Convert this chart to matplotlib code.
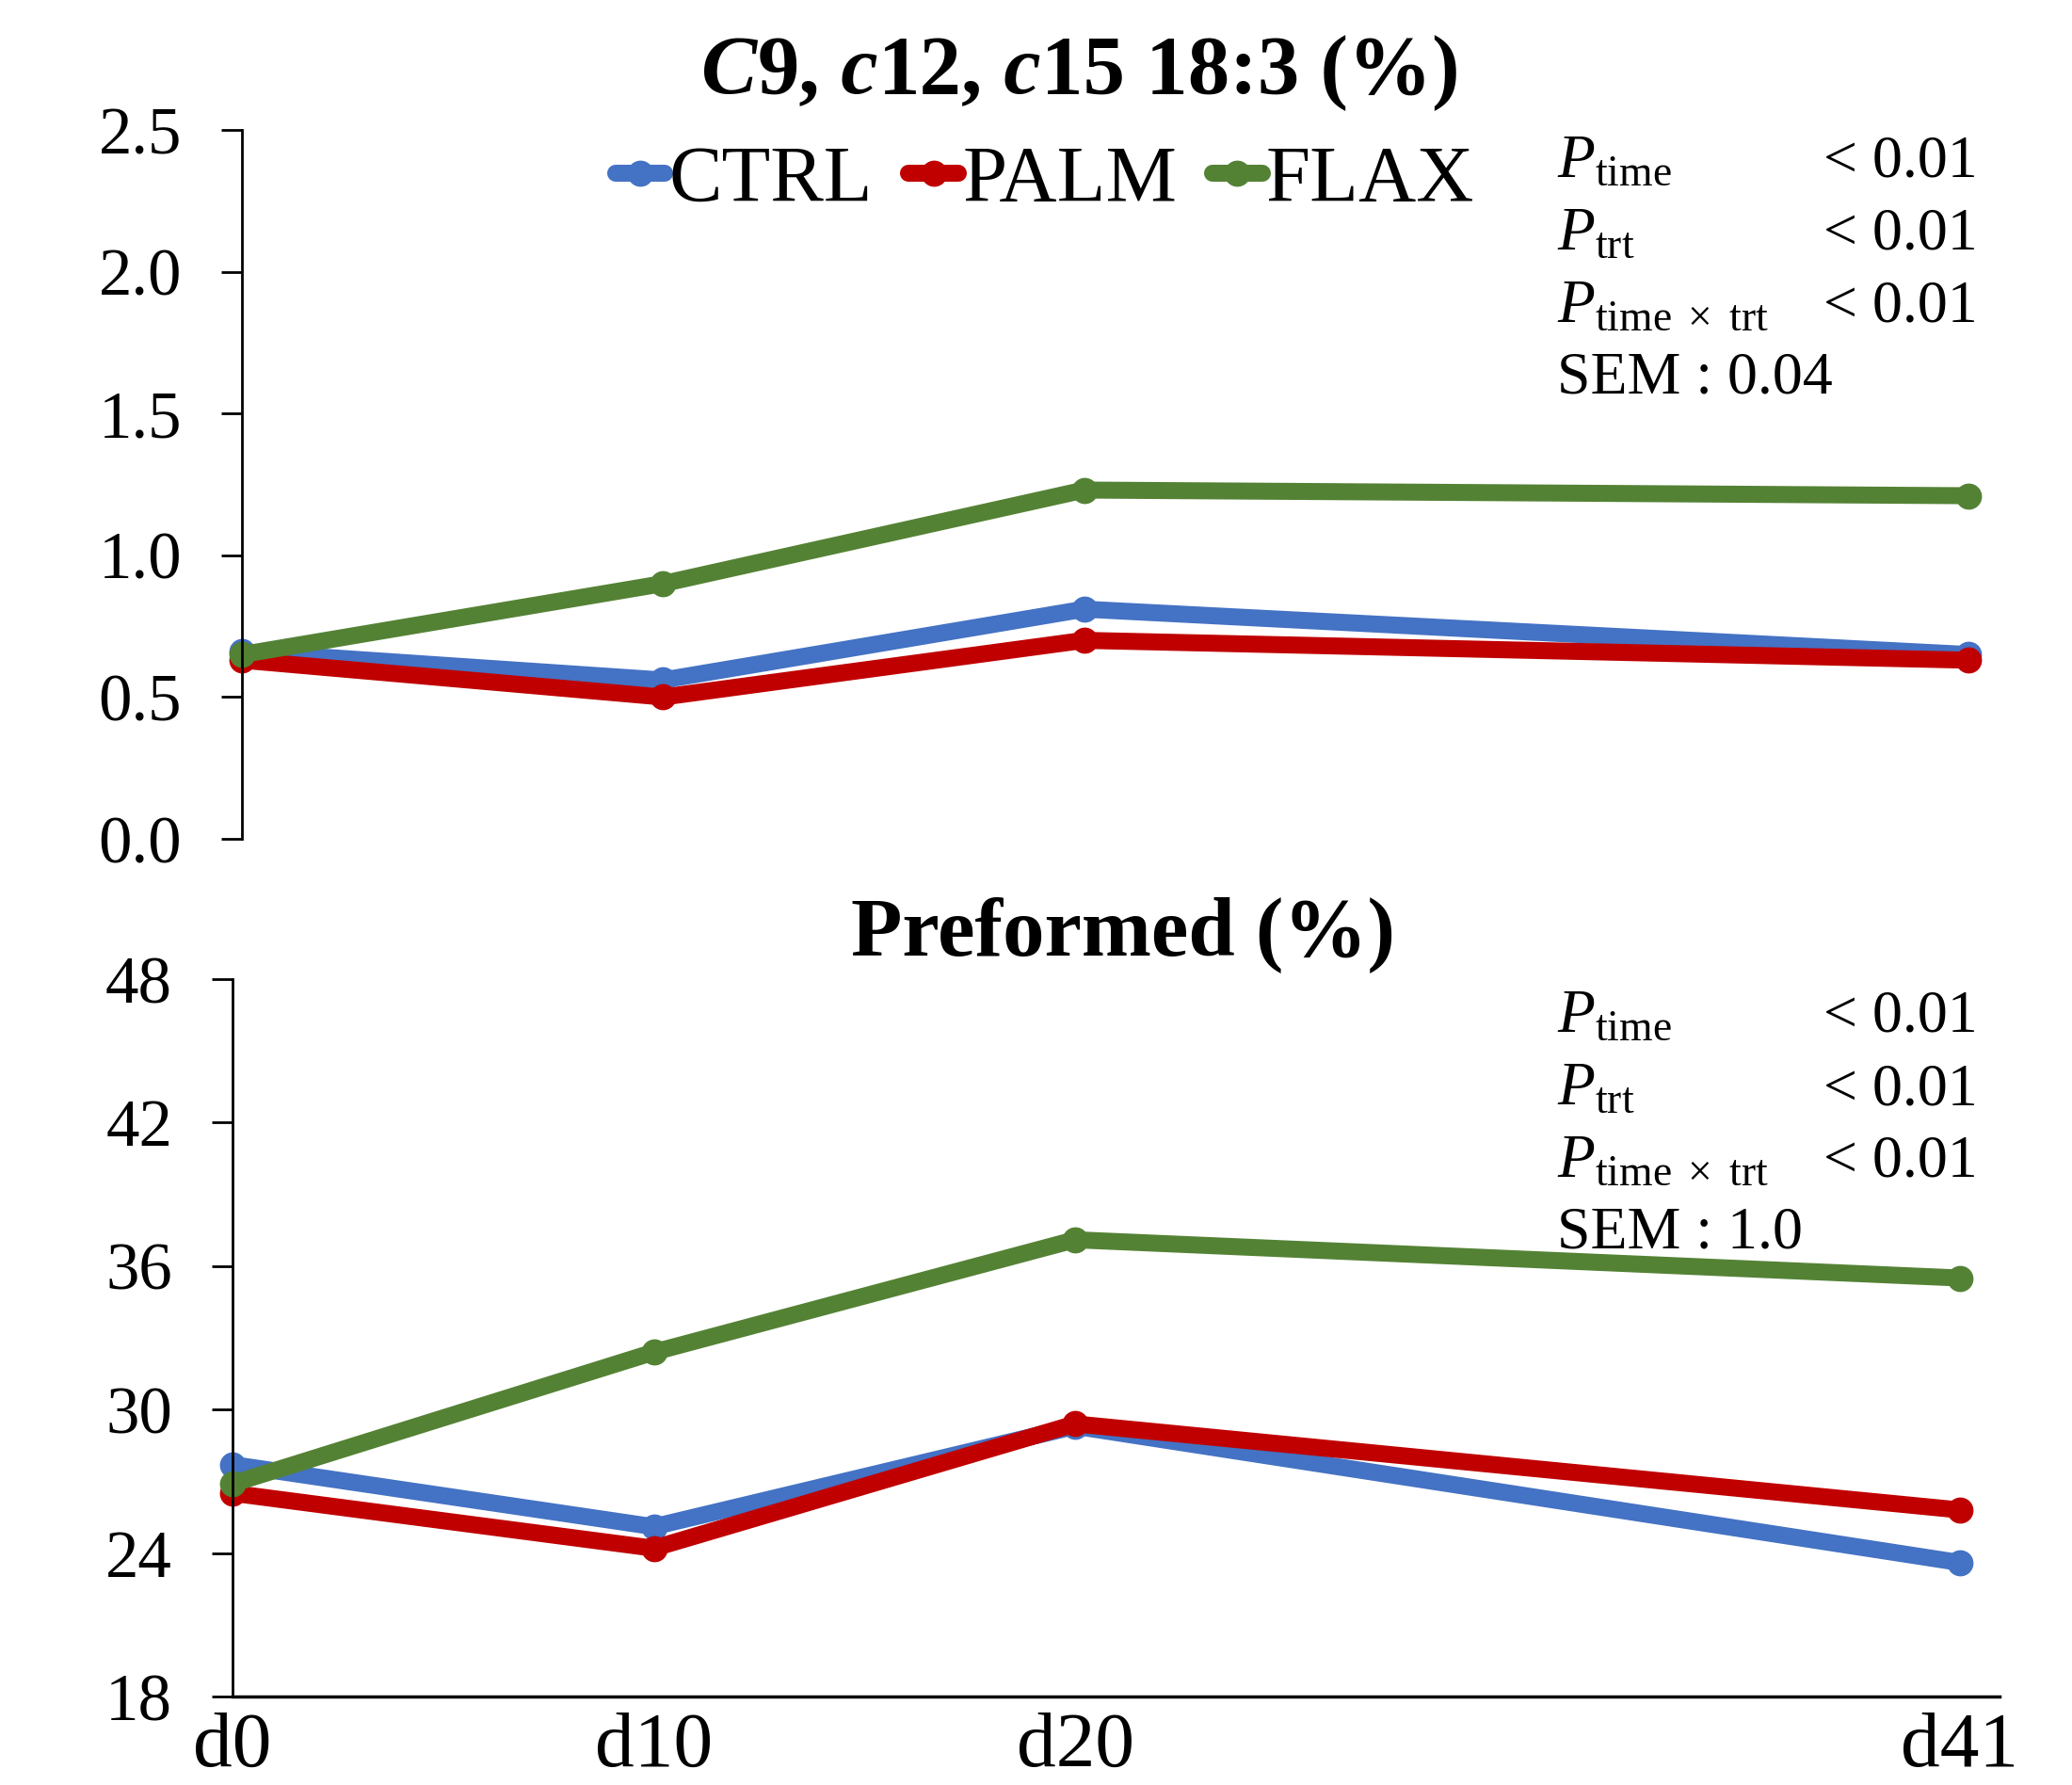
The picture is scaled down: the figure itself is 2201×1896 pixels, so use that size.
import matplotlib
matplotlib.use('Agg')
import matplotlib.pyplot as plt
from matplotlib.offsetbox import TextArea, HPacker, AnchoredOffsetbox

# 数据
days = [0, 10, 20, 41]
day_labels = ['d0', 'd10', 'd20', 'd41']
groups = ['CTRL', 'PALM', 'FLAX']
colors = ['#4472C4', '#C00000', '#548235']

ala_ctrl = [0.66, 0.56, 0.81, 0.65]
ala_palm = [0.63, 0.50, 0.70, 0.63]
ala_flax = [0.65, 0.90, 1.23, 1.21]

pre_ctrl = [27.7, 25.1, 29.3, 23.6]
pre_palm = [26.5, 24.2, 29.4, 25.8]
pre_flax = [26.9, 32.4, 37.1, 35.5]

ala_yticks = [0.0, 0.5, 1.0, 1.5, 2.0, 2.5]
pre_yticks = [18, 24, 30, 36, 42, 48]

title_parts = [('C', 'italic'), ('9,', 'normal'), (' c', 'italic'), ('12,', 'normal'),
               (' c', 'italic'), ('15 18:3 (%)', 'normal')]
stat_labels = [r'$P_{\mathrm{time}}$', r'$P_{\mathrm{trt}}$', r'$P_{\mathrm{time}\ \times\ \mathrm{trt}}$']
stat_values = ['< 0.01', '< 0.01', '< 0.01']
sem_top = 'SEM : 0.04'
sem_bottom = 'SEM : 1.0'

plt.rcParams['font.family'] = ['Liberation Serif', 'DejaVu Serif']
plt.rcParams['mathtext.fontset'] = 'custom'
plt.rcParams['mathtext.rm'] = 'Liberation Serif'
plt.rcParams['mathtext.it'] = 'Liberation Serif:italic'
plt.rcParams['mathtext.bf'] = 'Liberation Serif:bold'

W, H = 2201, 1896
fig = plt.figure(figsize=(W / 100, H / 100), dpi=100)


def box(l, t, r, b):
    return [l / W, 1 - b / H, (r - l) / W, (b - t) / H]


ax1 = fig.add_axes(box(257, 138, 2133, 891))
ax2 = fig.add_axes(box(247, 1040, 2124, 1802))

for ax, series, yt in [(ax1, [ala_ctrl, ala_palm, ala_flax], ala_yticks),
                       (ax2, [pre_ctrl, pre_palm, pre_flax], pre_yticks)]:
    for vals, c, g in zip(series, colors, groups):
        ax.plot(days, vals, color=c, lw=13, marker='o', ms=19,
                solid_capstyle='round', label=g, clip_on=False)
    ax.set_xlim(0, 41.94)
    ax.set_ylim(yt[0], yt[-1])
    ax.set_yticks(yt)
    ax.spines['top'].set_visible(False)
    ax.spines['right'].set_visible(False)
    ax.spines['left'].set_linewidth(2)
    ax.tick_params(axis='y', direction='out', length=16, width=2, labelsize=51, pad=30)

ax1.set_yticklabels([f'{v:.1f}' for v in ala_yticks])
ax1.spines['bottom'].set_visible(False)
ax1.set_xticks([])

ax2.set_yticklabels([str(v) for v in pre_yticks])
ax2.spines['bottom'].set_linewidth(2.5)
ax2.set_xticks(days)
ax2.set_xticklabels(day_labels)
ax2.tick_params(axis='x', length=0, labelsize=60, pad=12)

# 标题 (斜体/正体混排)
areas = [TextArea(t, textprops=dict(fontsize=64, fontweight='bold', fontstyle=s))
         for t, s in title_parts]
pack = HPacker(children=areas, align='baseline', pad=0, sep=0)
anch = AnchoredOffsetbox(loc='center', child=pack, frameon=False, pad=0, borderpad=0,
                         bbox_to_anchor=(1148 / W, 1 - 78 / H), bbox_transform=fig.transFigure)
fig.add_artist(anch)

fig.text(1193 / W, 1 - 1014 / H, 'Preformed (%)', ha='center', va='baseline',
         fontsize=64, fontweight='bold')

# 图例
h, l = ax1.get_legend_handles_labels()
fig.legend(h, l, loc='center', bbox_to_anchor=(1110 / W, 1 - 193 / H), ncol=3,
           frameon=False, fontsize=61, handlelength=0.62, handletextpad=0.05,
           columnspacing=0.45, borderaxespad=0, borderpad=0)

# 统计信息
for base, sem in [(188, sem_top), (1096, sem_bottom)]:
    for i in range(3):
        y = 1 - (base + 77 * i) / H
        fig.text(1654 / W, y, stat_labels[i], ha='left', va='baseline', fontsize=47)
        fig.text(2101 / W, y, stat_values[i], ha='right', va='baseline', fontsize=46)
    fig.text(1654 / W, 1 - (base + 230) / H, sem, ha='left', va='baseline', fontsize=46)

fig.savefig('out.png', dpi=100)
